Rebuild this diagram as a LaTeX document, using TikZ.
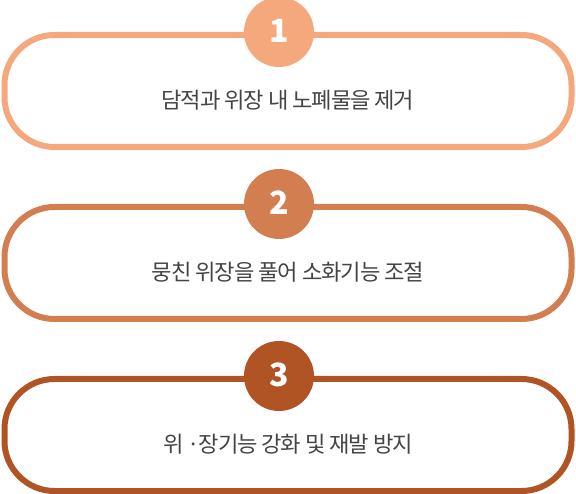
\documentclass[tikz,border=0pt]{standalone}
\usepackage{fontspec}
\newfontfamily\krfont[LetterSpace=-5]{Noto Sans CJK KR}
\newfontfamily\numfont{Noto Sans CJK KR}

\definecolor{stepA}{HTML}{F4A87C}
\definecolor{stepB}{HTML}{D27E50}
\definecolor{stepC}{HTML}{B05423}
\definecolor{textgray}{HTML}{444444}

\begin{document}
\begin{tikzpicture}[x=1pt,y=-1pt,
	stepbox/.style={draw,line width=6pt,rounded corners=50pt,minimum width=567pt,minimum height=112pt,inner sep=0pt},
	numdot/.style={circle,minimum size=70pt,inner sep=0pt},
	numtext/.style={anchor=base,inner sep=0pt,text=white,font=\numfont\bfseries\fontsize{32}{32}\selectfont},
	steptext/.style={anchor=base,inner sep=0pt,text=textgray,font=\krfont\fontsize{22.2}{26}\selectfont}]

	\useasboundingbox (0,0) rectangle (576,494);

	% boxes
	\node[stepbox, draw=stepA] (box1) at (288,91) {};
	\node[stepbox, draw=stepB] (box2) at (288,263) {};
	\node[stepbox, draw=stepC] (box3) at (288,435) {};

	% step numbers
	\node[numdot, fill=stepA] (num1) at ([xshift=-9pt]box1.north) {};
	\node[numdot, fill=stepB] (num2) at ([xshift=-9pt]box2.north) {};
	\node[numdot, fill=stepC] (num3) at ([xshift=-9pt]box3.north) {};
	\node[numtext] (lab1) at ([yshift=-11pt]num1.center) {1};
	\node[numtext] (lab2) at ([yshift=-11pt]num2.center) {2};
	\node[numtext] (lab3) at ([yshift=-11pt]num3.center) {3};

	% texts
	\node[steptext] (text1) at ([yshift=-18pt]box1.center) {담적과 위장 내 노폐물을 제거};
	\node[steptext] (text2) at ([yshift=-18pt]box2.center) {뭉친 위장을 풀어 소화기능 조절};
	\node[steptext] (text3) at ([yshift=-18pt]box3.center) {위 ·장기능 강화 및 재발 방지};

\end{tikzpicture}
\end{document}
